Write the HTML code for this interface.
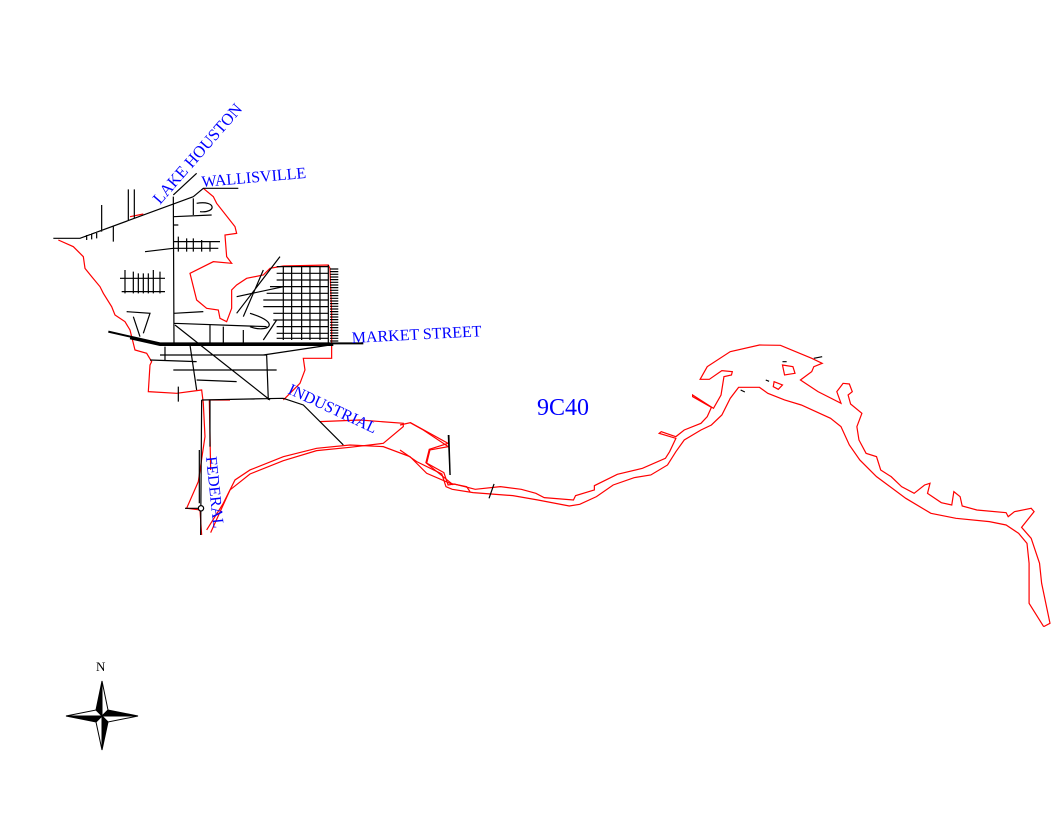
<!DOCTYPE html>
<html><head><meta charset="utf-8"><style>
html,body{margin:0;padding:0;background:#fff;}
svg{display:block;}
text{font-family:"Liberation Serif",serif;fill:#0000ff;}
</style></head><body>
<svg width="1056" height="816" viewBox="0 0 1056 816" xmlns="http://www.w3.org/2000/svg">
<g transform="translate(400,330) scale(0.418,0.3333)" fill="none" stroke="#ff0000" stroke-width="1.2">
<path vector-effect="non-scaling-stroke" d="M0,285 L25,278 L115,340 L70,358 L62,398 L105,428 L115,465 L130,462 L180,478 L240,470 L290,478 L325,490 L345,503 L415,510 L420,497 L465,480 L465,467 L520,433 L580,415 L635,385 L645,365 L660,325 L620,310 L625,305 L660,320 L680,300 L720,280 L735,260 L745,232 L700,200 L700,195 L750,235 L768,195 L775,140 L793,135 L795,125 L770,122 L740,148 L718,148 L735,110 L790,65 L860,45 L910,46 L985,85 L1010,100 L990,110 L985,125 L958,150 L1000,185 L1055,220 L1045,185 L1060,160 L1075,162 L1082,185 L1072,195 L1078,222 L1105,250 L1093,290 L1098,330 L1115,370 L1140,380 L1150,420 L1175,440 L1200,470 L1230,490 L1255,465 L1268,460 L1262,490 L1295,518 L1320,525 L1325,485 L1340,500 L1345,528 L1380,540 L1450,548 L1455,560 L1470,545 L1510,535 L1517,545 L1487,592 L1510,625 L1530,700 L1535,760 L1555,880 L1540,890"/>
<path vector-effect="non-scaling-stroke" d="M0,360 L40,395 L100,432 L110,470 L125,478 L175,488 L270,497 L330,510 L405,528 L430,523 L470,500 L510,465 L560,443 L600,435 L640,405 L660,365 L680,330 L720,300 L745,285 L770,255 L790,205 L810,172 L860,172 L880,190 L920,210 L960,225 L1030,265 L1055,290 L1075,345 L1100,390 L1140,440 L1210,505 L1270,550 L1330,565 L1410,575 L1450,585 L1480,610 L1500,640 L1505,700 L1505,820 L1540,890"/>
<path vector-effect="non-scaling-stroke" d="M915,105 L940,110 L945,130 L920,135 Z M895,155 L915,165 L905,178 L893,170 Z"/>
</g>
<g transform="translate(400,330) scale(0.418,0.3333)" fill="none" stroke="#000" stroke-width="1.2">
<path vector-effect="non-scaling-stroke" d="M117,315 L120,435 M225,462 L213,505 M990,85 L1010,80 M915,95 L925,95 M815,180 L825,186 M875,150 L883,154"/>
</g>
<g transform="translate(50,170) scale(0.3333)" fill="none" stroke="#ff0000" stroke-width="1.2">
<path vector-effect="non-scaling-stroke" d="M25,210 L70,230 L100,260 L105,295 L125,320 L150,350 L160,370 L185,410 L195,435 L225,455 L240,480 L245,500 L255,540 L290,550 L305,575 L300,585 L295,665 L380,670 L455,660 L460,700 L465,800 L445,935 L410,1015 L450,1020 L455,1095"/>
<path vector-effect="non-scaling-stroke" d="M460,55 L490,80 L500,100 L555,170 L560,190 L525,195 L530,260 L545,280 L490,275 L420,310 L440,390 L470,415 L505,420 L510,445 L530,455 L545,415 L545,360 L560,345 L590,325 L640,315 L660,295 L700,288 L835,285 L840,295 L845,430 L845,565 L760,565 L765,600 L750,640 L710,680 L700,690"/>
<path vector-effect="non-scaling-stroke" d="M470,1080 L520,1000 L555,930 L600,900 L700,860 L800,835 L900,825 L1000,830 L1080,860 L1130,910 L1200,940 L1250,950 L1260,965"/>
<path vector-effect="non-scaling-stroke" d="M482,1088 L540,960 L600,912 L700,872 L800,842 L900,832 L1000,820 L1060,770 L1060,760 L930,750 L810,755 M478,690 L540,690 M478,690 L482,900 M1080,758 L1120,780 L1195,830 L1140,840 L1130,880 L1210,945"/>
<path vector-effect="non-scaling-stroke" d="M240,140 L280,132"/>
</g>
<g transform="translate(50,170) scale(0.3333)" fill="none" stroke="#000" stroke-width="1.2">
<path vector-effect="non-scaling-stroke" d="M10,205 L90,205 L430,80 M370,75 L440,10 M370,80 L372,520 M430,80 L460,55 L565,55 M155,105 L155,185 M190,170 L190,215 M235,58 L235,150 M253,58 L253,145 M110,195 L110,210 M125,190 L125,208 M140,185 L140,205
M370,140 L485,135 M370,165 L385,165 M370,215 L510,215 M370,235 L505,235 M285,245 L370,235 M385,200 L385,245 M410,205 L410,245 M430,205 L430,245 M455,210 L455,245 M480,215 L480,245
M430,85 L430,135 M440,100 C500,90 500,130 450,125
M210,325 L345,325 M215,365 L345,365 M225,300 L225,370 M250,305 L250,370 M265,310 L265,370 M280,310 L280,370 M295,310 L295,370 M310,300 L310,370 M330,305 L330,370
M372,430 L460,425 M372,460 L650,470 M375,465 L660,690 M455,690 L700,685 M650,555 L655,690 M345,530 L345,570 M330,555 L650,555 M840,525 L640,555 M420,525 L440,660 M480,465 L480,520 M520,470 L520,520 M580,480 L580,520 M370,600 L680,600 M440,630 L560,635 M300,570 L440,575
M230,425 L300,430 L280,490 M250,440 L270,500
M700,685 L760,705 L880,825 M455,690 L452,1095 M448,840 L448,1000 M480,690 L480,830 M405,1015 L455,1015 M385,650 L385,695
M1195,795 L1200,915
M690,260 L560,430 M640,300 L580,440 M680,450 L640,510 M560,380 L700,350 M600,430 C700,460 650,490 600,470
M680,290 L835,290 M680,310 L835,310 M680,330 L835,330 M660,350 L835,350 M650,370 L835,370 M640,390 L835,390 M640,410 L835,410 M670,430 L835,430 M670,450 L835,450 M680,470 L835,470 M680,490 L835,490 M680,505 L835,505
M700,290 L700,510 M725,290 L725,510 M755,290 L755,510 M780,290 L780,510 M810,290 L810,510 M835,285 L835,525"/>
<path vector-effect="non-scaling-stroke" d="M840,297 L865,297 M840,305 L865,305 M840,313 L865,313 M840,321 L865,321 M840,329 L865,329 M840,337 L865,337 M840,345 L865,345 M840,353 L865,353 M840,361 L865,361 M840,369 L865,369 M840,377 L865,377 M840,385 L865,385 M840,393 L865,393 M840,401 L865,401 M840,409 L865,409 M840,417 L865,417 M840,425 L865,425 M840,433 L865,433 M840,441 L865,441 M840,449 L865,449 M840,457 L865,457 M840,465 L865,465 M840,473 L865,473 M840,481 L865,481 M840,489 L865,489 M840,497 L865,497 M840,505 L865,505 M840,513 L865,513"/>
<path vector-effect="non-scaling-stroke" stroke-width="2" d="M175,485 L330,520 L850,520 L940,520 M240,505 L330,525 L850,525"/>
<circle vector-effect="non-scaling-stroke" cx="453" cy="1015" r="8" fill="#fff"/>
</g>
<text x="0" y="0" font-size="16.5" transform="translate(160,205) rotate(-49)">LAKE HOUSTON</text>
<text x="0" y="0" font-size="16" transform="translate(202,187) rotate(-5)">WALLISVILLE</text>
<text x="0" y="0" font-size="16" transform="translate(352,343) rotate(-3)">MARKET STREET</text>
<text x="0" y="0" font-size="16" transform="translate(287,393) rotate(25)">INDUSTRIAL</text>
<text x="0" y="0" font-size="16" transform="translate(206,457) rotate(84)">FEDERAL</text>
<text x="537" y="415" font-size="24">9C40</text>
<text x="96" y="671" font-size="13" style="fill:#000">N</text>
<g stroke="#000" stroke-width="1" stroke-linejoin="miter">
<polygon points="102,681 108,710 102,716" fill="#fff"/>
<polygon points="102,681 96,710 102,716" fill="#000"/>
<polygon points="138,716 108,710 102,716" fill="#000"/>
<polygon points="138,716 108,722 102,716" fill="#fff"/>
<polygon points="102,750 108,722 102,716" fill="#000"/>
<polygon points="102,750 96,722 102,716" fill="#fff"/>
<polygon points="66,716 96,722 102,716" fill="#000"/>
<polygon points="66,716 96,710 102,716" fill="#fff"/>
</g>
</svg>
</body></html>
